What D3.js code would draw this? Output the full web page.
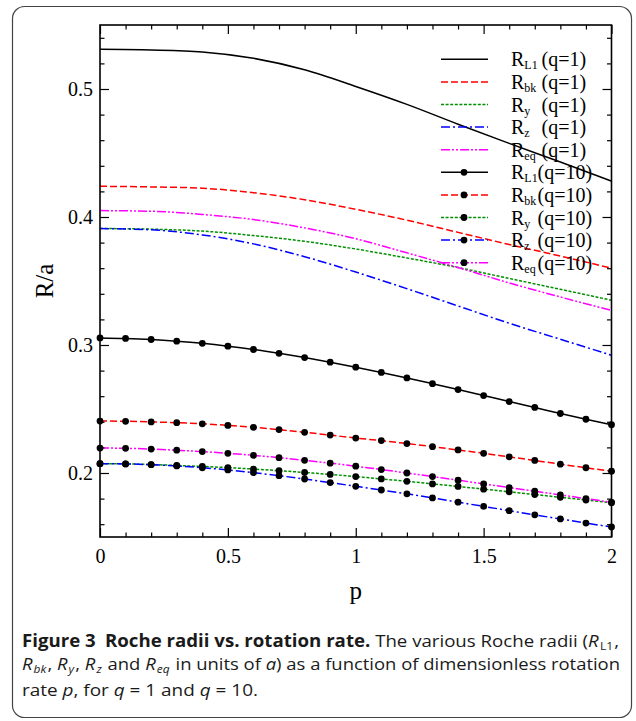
<!DOCTYPE html>
<html>
<head>
<meta charset="utf-8">
<script src="https://cdn.jsdelivr.net/npm/d3@7"></script>
<style>
  html, body { margin: 0; padding: 0; background: #fff; }
  svg { display: block; }
</style>
</head>
<body>
<svg id="chart" width="636" height="721"></svg>
<script>
// Rotation rate grids
const pCoarse = [0, 0.2, 0.4, 0.6, 0.8, 1.0, 1.2, 1.4, 1.6, 1.8, 2.0];
const pFine = [0, 0.1, 0.2, 0.3, 0.4, 0.5, 0.6, 0.7, 0.8, 0.9, 1.0,
               1.1, 1.2, 1.3, 1.4, 1.5, 1.6, 1.7, 1.8, 1.9, 2.0];

// q = 1 radii (on pCoarse)
const rL1_q1  = [0.531, 0.5305, 0.529, 0.524, 0.515, 0.502, 0.488, 0.4725, 0.4575, 0.443, 0.428];
const rBk_q1  = [0.424, 0.4235, 0.4225, 0.419, 0.4135, 0.406, 0.3975, 0.388, 0.3785, 0.3695, 0.360];
const rY_q1   = [0.391, 0.3905, 0.389, 0.3855, 0.381, 0.375, 0.368, 0.3605, 0.352, 0.3435, 0.335];
const rZ_q1   = [0.391, 0.390, 0.386, 0.379, 0.369, 0.357, 0.344, 0.3305, 0.317, 0.3045, 0.292];
const rEq_q1  = [0.405, 0.4045, 0.402, 0.398, 0.3915, 0.383, 0.372, 0.3605, 0.3485, 0.3375, 0.327];

// q = 10 radii (on pFine)
const rL1_q10 = [0.3055, 0.3051, 0.3043, 0.3030, 0.3013, 0.2991, 0.2965, 0.2935, 0.2902, 0.2866, 0.2827,
                 0.2786, 0.2743, 0.2698, 0.2652, 0.2605, 0.2558, 0.2512, 0.2465, 0.2420, 0.2377];
const rBk_q10 = [0.2406, 0.2404, 0.2399, 0.2393, 0.2384, 0.2372, 0.2357, 0.2339, 0.2318, 0.2296, 0.2273,
                 0.2253, 0.2230, 0.2206, 0.2180, 0.2154, 0.2126, 0.2098, 0.2069, 0.2041, 0.2014];
const rY_q10  = [0.2073, 0.2071, 0.2066, 0.2059, 0.2051, 0.2042, 0.2031, 0.2018, 0.2004, 0.1989, 0.1972,
                 0.1954, 0.1935, 0.1915, 0.1895, 0.1874, 0.1853, 0.1832, 0.1810, 0.1789, 0.1768];
const rZ_q10  = [0.2073, 0.2071, 0.2065, 0.2055, 0.2041, 0.2024, 0.2003, 0.1979, 0.1953, 0.1925, 0.1896,
                 0.1867, 0.1837, 0.1805, 0.1772, 0.1739, 0.1706, 0.1673, 0.1641, 0.1609, 0.1578];
const rEq_q10 = [0.2195, 0.2193, 0.2187, 0.2178, 0.2167, 0.2154, 0.2138, 0.2120, 0.2099, 0.2077, 0.2053,
                 0.2027, 0.2000, 0.1972, 0.1944, 0.1915, 0.1886, 0.1858, 0.1829, 0.1800, 0.1771];

// Series descriptions: subscript, colour, dash pattern
const seriesSub   = ["L1", "bk", "y", "z", "eq"];
const seriesColor = ["#000000", "#ff0000", "#009000", "#0000ff", "#ff00ff"];
const seriesDash  = [null, "7,3", "3,1.6", "9,3,2,3", "9,2,2,2,2,2"];

// Axis ticks
const xMajorTicks = [0, 0.5, 1, 1.5, 2];
const xTickLabels = ["0", "0.5", "1", "1.5", "2"];
const xMinorTicks = [0.1, 0.2, 0.3, 0.4, 0.6, 0.7, 0.8, 0.9, 1.1, 1.2, 1.3, 1.4, 1.6, 1.7, 1.8, 1.9];
const yMajorTicks = [0.2, 0.3, 0.4, 0.5];
const yTickLabels = ["0.2", "0.3", "0.4", "0.5"];
const yMinorTicks = [0.16, 0.18, 0.22, 0.24, 0.26, 0.28, 0.32, 0.34, 0.36, 0.38,
                     0.42, 0.44, 0.46, 0.48, 0.52, 0.54];

const q1Sets  = [rL1_q1, rBk_q1, rY_q1, rZ_q1, rEq_q1];
const q10Sets = [rL1_q10, rBk_q10, rY_q10, rZ_q10, rEq_q10];

const svg = d3.select("#chart");
const serif = "'Liberation Serif', 'Times New Roman', serif";

// Outer rounded frame
svg.append("rect")
  .attr("x", 12.5).attr("y", 6.5).attr("width", 619).attr("height", 711)
  .attr("rx", 12).attr("ry", 12)
  .attr("fill", "none").attr("stroke", "#444").attr("stroke-width", 1.2);

const plot = { left: 100, right: 611.5, top: 25, bottom: 537 };
const x = d3.scaleLinear().domain([0, 2]).range([plot.left, plot.right]);
const y = d3.scaleLinear().domain([0.15, 0.55]).range([plot.bottom, plot.top]);

const g = svg.append("g");

// Curves
const line = d3.line().x(d => x(d[0])).y(d => y(d[1])).curve(d3.curveMonotoneX);

svg.append("clipPath").attr("id", "plotclip")
  .append("rect").attr("x", plot.left).attr("y", plot.top)
  .attr("width", plot.right - plot.left).attr("height", plot.bottom - plot.top);

const curves = g.append("g").attr("clip-path", "url(#plotclip)");

q1Sets.forEach((vals, i) => {
  curves.append("path")
    .datum(pCoarse.map((p, k) => [p, vals[k]]))
    .attr("d", line)
    .attr("fill", "none")
    .attr("stroke", seriesColor[i])
    .attr("stroke-width", 1.5)
    .attr("stroke-dasharray", seriesDash[i]);
});

q10Sets.forEach((vals, i) => {
  curves.append("path")
    .datum(pFine.map((p, k) => [p, vals[k]]))
    .attr("d", line)
    .attr("fill", "none")
    .attr("stroke", seriesColor[i])
    .attr("stroke-width", 1.5)
    .attr("stroke-dasharray", seriesDash[i]);
});

// Markers on q = 10 curves (drawn over all lines)
q10Sets.forEach((vals) => {
  g.append("g").selectAll("circle")
    .data(pFine.map((p, k) => [p, vals[k]]))
    .join("circle")
    .attr("cx", d => x(d[0])).attr("cy", d => y(d[1]))
    .attr("r", 3.4).attr("fill", "#000");
});

// Axes: all ticks point inward
function styleAxis(sel) {
  sel.select(".domain").remove();
  sel.selectAll(".tick line").attr("stroke", "#000").attr("stroke-width", 1.2);
  sel.selectAll("text").attr("font-family", serif).attr("font-size", 20).attr("fill", "#000");
}

g.append("g").attr("transform", `translate(0,${plot.bottom})`)
  .call(d3.axisBottom(x).tickValues(xMajorTicks).tickSize(-9).tickPadding(12)
    .tickFormat((d, i) => xTickLabels[i]))
  .call(styleAxis);
g.append("g").attr("transform", `translate(0,${plot.bottom})`)
  .call(d3.axisBottom(x).tickValues(xMinorTicks).tickSize(-4.5).tickFormat(""))
  .call(styleAxis);
g.append("g").attr("transform", `translate(0,${plot.top})`)
  .call(d3.axisTop(x).tickValues(xMajorTicks).tickSize(-9).tickFormat(""))
  .call(styleAxis);
g.append("g").attr("transform", `translate(0,${plot.top})`)
  .call(d3.axisTop(x).tickValues(xMinorTicks).tickSize(-4.5).tickFormat(""))
  .call(styleAxis);

g.append("g").attr("transform", `translate(${plot.left},0)`)
  .call(d3.axisLeft(y).tickValues(yMajorTicks).tickSize(-9).tickPadding(7)
    .tickFormat((d, i) => yTickLabels[i]))
  .call(styleAxis);
g.append("g").attr("transform", `translate(${plot.left},0)`)
  .call(d3.axisLeft(y).tickValues(yMinorTicks).tickSize(-4.5).tickFormat(""))
  .call(styleAxis);
g.append("g").attr("transform", `translate(${plot.right},0)`)
  .call(d3.axisRight(y).tickValues(yMajorTicks).tickSize(-9).tickFormat(""))
  .call(styleAxis);
g.append("g").attr("transform", `translate(${plot.right},0)`)
  .call(d3.axisRight(y).tickValues(yMinorTicks).tickSize(-4.5).tickFormat(""))
  .call(styleAxis);

// Plot frame
g.append("rect")
  .attr("x", plot.left).attr("y", plot.top)
  .attr("width", plot.right - plot.left).attr("height", plot.bottom - plot.top)
  .attr("fill", "none").attr("stroke", "#000").attr("stroke-width", 1.6);

// Axis titles
svg.append("text")
  .attr("x", (plot.left + plot.right) / 2).attr("y", 599)
  .attr("text-anchor", "middle")
  .attr("font-family", serif).attr("font-size", 25)
  .text("p");

svg.append("text")
  .attr("transform", "translate(53,281) rotate(-90)")
  .attr("text-anchor", "middle")
  .attr("font-family", serif).attr("font-size", 25)
  .text("R/a");

// Legend
const legend = g.append("g");
const legendRows = [];
seriesSub.forEach((s, i) => legendRows.push({ sub: s, q: "(q=1)", color: seriesColor[i], dash: seriesDash[i], marker: false }));
seriesSub.forEach((s, i) => legendRows.push({ sub: s, q: "(q=10)", color: seriesColor[i], dash: seriesDash[i], marker: true }));

legendRows.forEach((r, i) => {
  const cy = 59.3 + i * 22.6;
  legend.append("line")
    .attr("x1", 441).attr("x2", 488).attr("y1", cy).attr("y2", cy)
    .attr("stroke", r.color).attr("stroke-width", 1.5)
    .attr("stroke-dasharray", r.dash);
  if (r.marker) {
    legend.append("circle").attr("cx", 464).attr("cy", cy).attr("r", 3.4).attr("fill", "#000");
  }
  const t = legend.append("text")
    .attr("x", 511).attr("y", cy + 7)
    .attr("font-family", serif).attr("font-size", 20);
  t.append("tspan").text("R");
  t.append("tspan").attr("font-size", 12).attr("dy", 3).text(r.sub);
  legend.append("text")
    .attr("x", r.marker ? 537.5 : 541.5).attr("y", cy + 7)
    .attr("font-family", serif).attr("font-size", 20)
    .text(r.q);
});

// Caption (three lines; symbols in italics with subscripts)
const capFont = "'Open Sans', 'Noto Sans', sans-serif";
const capSize = 17;
const capColor = "#1a1a1a";

function capLine(yPos, len) {
  return svg.append("text").attr("x", 22).attr("y", yPos)
    .attr("font-family", capFont).attr("font-size", capSize).attr("fill", capColor)
    .attr("textLength", len).attr("lengthAdjust", "spacingAndGlyphs");
}
function symbol(t, main, sub, after) {
  t.append("tspan").attr("font-style", "italic").text(main);
  if (sub) {
    t.append("tspan").attr("font-style", "italic").attr("font-size", 11)
      .attr("dx", 1).attr("dy", 3).text(sub);
    t.append("tspan").attr("dx", 1).attr("dy", -3).text(after);
  } else {
    t.append("tspan").text(after);
  }
}

const c1 = capLine(647, 597);
c1.append("tspan").attr("font-weight", "bold").text("Figure 3\u2002Roche radii vs. rotation rate.");
c1.append("tspan").text(" The various Roche radii (");
c1.append("tspan").attr("font-style", "italic").text("R");
c1.append("tspan").attr("font-size", 11).attr("dx", 1).attr("dy", 3).text("L1");
c1.append("tspan").attr("dx", 1).attr("dy", -3).text(",");

const c2 = capLine(670, 598);
symbol(c2, "R", "bk", ", ");
symbol(c2, "R", "y", ", ");
symbol(c2, "R", "z", " and ");
symbol(c2, "R", "eq", " in units of ");
symbol(c2, "a", null, ") as a function of dimensionless rotation");

const c3 = capLine(696, 236);
c3.append("tspan").text("rate ");
symbol(c3, "p", null, ", for ");
symbol(c3, "q", null, " = 1 and ");
symbol(c3, "q", null, " = 10.");
</script>
</body>
</html>
